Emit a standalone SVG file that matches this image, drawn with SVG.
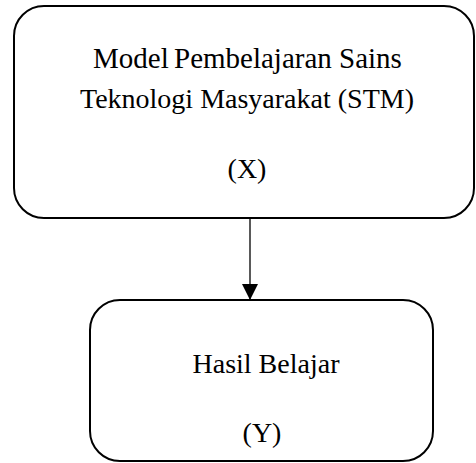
<svg xmlns="http://www.w3.org/2000/svg" width="476" height="463" viewBox="0 0 476 463">
  <style>
    .box { fill: #ffffff; stroke: #000000; stroke-width: 2; }
    .label { font-family: "Liberation Serif", "Times New Roman", serif; font-size: 28px; fill: #000000; text-anchor: middle; }
    .link { stroke: #000000; stroke-width: 1.3; fill: none; }
  </style>
  <defs>
    <marker id="arrow" markerWidth="16" markerHeight="16" refX="16" refY="8" orient="auto" markerUnits="userSpaceOnUse">
      <path d="M0,0 L16,8 L0,16 Z" fill="#000000"/>
    </marker>
  </defs>
  <rect width="476" height="463" fill="#ffffff"/>
  <g id="node-x">
    <rect class="box" x="14" y="6" width="460" height="212" rx="30" ry="30"/>
    <text class="label" y="68" style="font-size:29px"><tspan x="93" text-anchor="start">Model</tspan><tspan x="174" text-anchor="start">Pembelajaran</tspan><tspan x="339" text-anchor="start">Sains</tspan></text>
    <text class="label" x="247" y="108">Teknologi Masyarakat (STM)</text>
    <text class="label" x="247" y="178">(X)</text>
  </g>
  <g id="node-y">
    <rect class="box" x="90" y="300" width="343" height="161" rx="30" ry="30"/>
    <text class="label" x="266" y="373">Hasil Belajar</text>
    <text class="label" x="262" y="442">(Y)</text>
  </g>
  <g id="connectors">
    <line class="link" x1="250" y1="219" x2="250" y2="300" marker-end="url(#arrow)"/>
  </g>
</svg>
